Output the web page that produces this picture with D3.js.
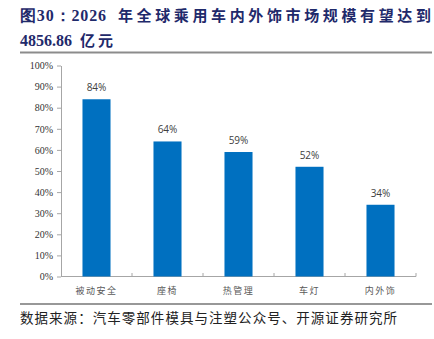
<!DOCTYPE html>
<html><head><meta charset="utf-8">
<script src="https://cdn.jsdelivr.net/npm/d3@7"></script>
<style>body{margin:0;background:#fff}svg{display:block}</style>
</head><body>
<script>
const categories = ["被动安全", "座椅", "热管理", "车灯", "内外饰"];
const values = [0.84, 0.64, 0.59, 0.52, 0.34];
const yTicks = [0, 0.1, 0.2, 0.3, 0.4, 0.5, 0.6, 0.7, 0.8, 0.9, 1.0];
const titleHead = "图30：2026";
const titleRest = "年全球乘用车内外饰市场规模有望达到";
const titleLine2 = ["4856.86", "亿元"];
const sourceText = "数据来源：汽车零部件模具与注塑公众号、开源证券研究所";

const W = 434, H = 339;
const svg = d3.select("body").append("svg").attr("width", W).attr("height", H);

const serif = "'Liberation Serif','DejaVu Serif',serif";
const cjk = "'Noto Sans CJK SC','Liberation Serif',serif";
const navy = "#1f2a6b";

// Title
svg.append("text").attr("x", 20).attr("y", 21)
  .attr("font-family", serif).attr("font-weight", "bold").attr("font-size", 16)
  .attr("fill", navy).attr("textLength", 86).attr("lengthAdjust", "spacing")
  .text(titleHead);
svg.append("text").attr("x", 118).attr("y", 21)
  .attr("font-family", cjk).attr("font-weight", "bold").attr("font-size", 15)
  .attr("fill", navy).attr("textLength", 313).attr("lengthAdjust", "spacing")
  .text(titleRest);
svg.append("text").attr("x", 20).attr("y", 46)
  .attr("font-family", serif).attr("font-weight", "bold").attr("font-size", 16)
  .attr("fill", navy).text(titleLine2[0]);
svg.append("text").attr("x", 80).attr("y", 46)
  .attr("font-family", cjk).attr("font-weight", "bold").attr("font-size", 15)
  .attr("fill", navy).attr("textLength", 33).attr("lengthAdjust", "spacing").text(titleLine2[1]);
svg.append("line").attr("x1", 20).attr("x2", 432).attr("y1", 52.5).attr("y2", 52.5)
  .attr("stroke", "#8c8c8c").attr("stroke-width", 2);

// Scales
const x = d3.scaleBand().domain(categories).range([61, 416]).paddingInner(0.605).paddingOuter(0.3025);
const y = d3.scaleLinear().domain([0, 1]).range([276.5, 65.5]);

// Y axis
const yAxis = d3.axisLeft(y).tickValues(yTicks).tickFormat(d3.format(".0%")).tickSize(4).tickSizeOuter(0);
const gy = svg.append("g").attr("transform", "translate(61,0)").call(yAxis);
gy.select(".domain").attr("stroke", "#a6a6a6");
gy.selectAll(".tick line").attr("stroke", "#a6a6a6");
gy.selectAll(".tick text").attr("font-family", serif).attr("font-size", 10).attr("fill", "#333").attr("x", -8);

// X axis line & ticks between categories
const band = (416 - 61) / categories.length;
const xTickPos = d3.range(categories.length + 1).map(i => 61 + i * band);
svg.append("line").attr("x1", 61).attr("x2", 416).attr("y1", 276.5).attr("y2", 276.5).attr("stroke", "#a6a6a6");
svg.selectAll(".xt").data(xTickPos.slice(1)).enter().append("line")
  .attr("x1", d => d).attr("x2", d => d).attr("y1", 276.5).attr("y2", 273)
  .attr("stroke", "#a6a6a6");

// Bars
svg.selectAll(".bar").data(values).enter().append("rect")
  .attr("x", (d, i) => x(categories[i]))
  .attr("y", d => y(d))
  .attr("width", x.bandwidth())
  .attr("height", d => y(0) - y(d))
  .attr("fill", "#0070c0");

// Value labels
svg.selectAll(".vl").data(values).enter().append("text")
  .attr("x", (d, i) => x(categories[i]) + x.bandwidth() / 2)
  .attr("y", d => y(d) - 8)
  .attr("text-anchor", "middle")
  .attr("font-family", "'Open Sans','DejaVu Sans',sans-serif").attr("font-size", 10)
  .attr("fill", "#404040")
  .text(d => Math.round(d * 100) + "%");

// Category labels
svg.selectAll(".cl").data(categories).enter().append("text")
  .attr("x", d => x(d) + x.bandwidth() / 2)
  .attr("y", 294)
  .attr("text-anchor", "middle")
  .attr("font-family", cjk).attr("font-size", 9).attr("letter-spacing", 1.5)
  .attr("fill", "#595959")
  .text(d => d);

// Source
svg.append("line").attr("x1", 20).attr("x2", 432).attr("y1", 304).attr("y2", 304)
  .attr("stroke", "#333").attr("stroke-width", 1.2);
svg.append("text").attr("x", 20).attr("y", 323)
  .attr("font-family", cjk).attr("font-size", 13.5).attr("fill", "#222")
  .attr("textLength", 377).attr("lengthAdjust", "spacing")
  .text(sourceText);
</script>
</body></html>
